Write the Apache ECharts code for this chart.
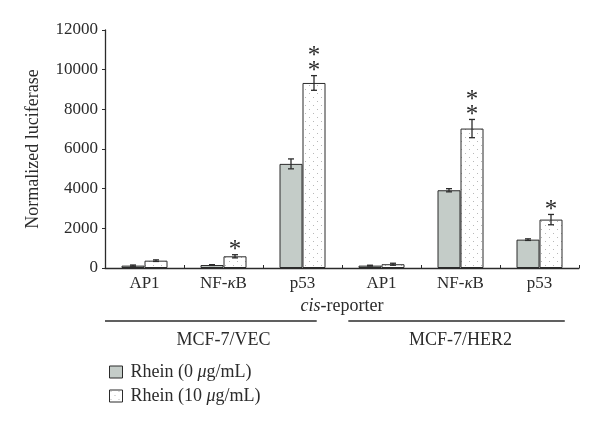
<!DOCTYPE html>
<html><head><meta charset="utf-8">
<script src="https://cdn.jsdelivr.net/npm/echarts@6/dist/echarts.min.js"></script>
<style>html,body{margin:0;padding:0;background:#fff}#c{width:600px;height:428px}</style>
</head><body><div id="c"></div><script>
// ---- data ----
const categories = ['AP1', 'NF-κB', 'p53', 'AP1', 'NF-κB', 'p53'];
const seriesNames = ['Rhein (0 μg/mL)', 'Rhein (10 μg/mL)'];
const rhein0 = [120, 150, 5250, 120, 3920, 1430];
const rhein0Err = [30, 20, 250, 20, 80, 40];
const rhein0Stars = [0, 0, 0, 0, 0, 0];
const rhein10 = [370, 590, 9330, 190, 7030, 2440];
const rhein10Err = [40, 80, 370, 50, 460, 260];
const rhein10Stars = [0, 1, 2, 0, 2, 1];
const groupNames = ['MCF-7/VEC', 'MCF-7/HER2'];
const groupFrom = [0, 3];
const groupTo = [2, 5];
const yMin = 0, yMax = 12000, yStep = 2000;

// ---- styling ----
const FONT = 'Liberation Serif';
const INK = '#2b2b2b';
const GREY = '#c4ccc8';
const FS_TICK = 17, FS_TEXT = 18;

function dotPattern() {
  const c = document.createElement('canvas');
  c.width = 8; c.height = 8;
  const g = c.getContext('2d');
  g.fillStyle = '#ffffff'; g.fillRect(0, 0, 8, 8);
  g.fillStyle = '#b8b8b8';
  g.fillRect(1, 1, 1, 1);
  g.fillRect(5, 5, 1, 1);
  return c;
}
const DOTS = { image: dotPattern(), repeat: 'repeat' };

const BAR_W = 23;
function errSeries(vals, errs, stars, offset) {
  return {
    type: 'custom',
    silent: true,
    z: 5,
    data: vals.map((v, i) => [i, v, errs[i], stars[i]]),
    encode: { x: 0, y: 1 },
    renderItem: function (params, api) {
      const i = api.value(0), v = api.value(1), e = api.value(2), s = api.value(3);
      const x = api.coord([i, v])[0] + offset;
      const yTop = api.coord([i, v + e])[1];
      const yBot = api.coord([i, Math.max(0, v - e)])[1];
      const st = { stroke: INK, lineWidth: 1.3 };
      const children = [
        { type: 'line', shape: { x1: x, y1: yTop, x2: x, y2: yBot }, style: st },
        { type: 'line', shape: { x1: x - 3, y1: yTop, x2: x + 3, y2: yTop }, style: st },
        { type: 'line', shape: { x1: x - 3, y1: yBot, x2: x + 3, y2: yBot }, style: st }
      ];
      for (let k = 0; k < s; k++) {
        children.push({
          type: 'text',
          style: {
            text: '*', x: x, y: yTop - 9 - k * 15,
            fontFamily: FONT, fontSize: 25, fill: INK,
            align: 'center', verticalAlign: 'middle'
          },
          y: 5
        });
      }
      return { type: 'group', children: children };
    }
  };
}

const richI = function (fs) { return { i: { fontFamily: FONT, fontSize: fs, fontStyle: 'italic', color: INK } }; };

const chart = echarts.init(document.getElementById('c'), null, { renderer: 'canvas' });
const option = {
  animation: false,
  backgroundColor: '#fff',
  textStyle: { fontFamily: FONT, color: INK },
  grid: { left: 105, right: 21, top: 30, bottom: 160 },
  legend: {
    orient: 'vertical', left: 109, top: 363, padding: 0,
    itemWidth: 13, itemHeight: 12, itemGap: 6,
    icon: 'rect',
    itemStyle: { borderColor: INK, borderWidth: 1 },
    data: [
      { name: seriesNames[0], itemStyle: { color: GREY, borderColor: INK, borderWidth: 1 } },
      { name: seriesNames[1], itemStyle: { color: DOTS, borderColor: INK, borderWidth: 1 } }
    ],
    textStyle: { fontFamily: FONT, fontSize: FS_TEXT, lineHeight: 18, color: INK, padding: [0, 0, 0, 3], rich: richI(FS_TEXT) },
    formatter: function (n) { return n.replace('μ', '{i|μ}'); }
  },
  xAxis: {
    type: 'category', data: categories,
    name: '{i|cis}-reporter', nameLocation: 'middle', nameGap: 26,
    nameTextStyle: { fontFamily: FONT, fontSize: FS_TEXT, color: INK, rich: richI(FS_TEXT) },
    axisLine: { lineStyle: { color: INK, width: 1.3 } },
    axisTick: { show: true, inside: true, length: 3, lineStyle: { color: INK } },
    axisLabel: {
      interval: 0,
      fontFamily: FONT, fontSize: FS_TICK, color: INK, margin: 7,
      formatter: function (v) { return v.replace('κ', '{i|κ}'); },
      rich: richI(FS_TICK)
    }
  },
  yAxis: {
    type: 'value', min: yMin, max: yMax, interval: yStep,
    name: 'Normalized luciferase', nameLocation: 'middle', nameGap: 63,
    nameTextStyle: { fontFamily: FONT, fontSize: FS_TEXT, color: INK },
    axisLine: { show: true, lineStyle: { color: INK, width: 1.3 } },
    axisTick: { show: true, length: 3, lineStyle: { color: INK } },
    axisLabel: { fontFamily: FONT, fontSize: FS_TICK, color: INK, margin: 7, formatter: function (v) { return String(v); } },
    splitLine: { show: false }
  },
  series: [
    {
      name: seriesNames[0], type: 'bar', data: rhein0, barWidth: BAR_W, barGap: '0%',
      itemStyle: { color: GREY, borderColor: INK, borderWidth: 1 }
    },
    {
      name: seriesNames[1], type: 'bar', data: rhein10, barWidth: BAR_W, barGap: '0%',
      itemStyle: { color: DOTS, borderColor: INK, borderWidth: 1 }
    },
    errSeries(rhein0, rhein0Err, rhein0Stars, -BAR_W / 2),
    errSeries(rhein10, rhein10Err, rhein10Stars, BAR_W / 2)
  ]
};
chart.setOption(option);

// group annotation lines and labels, positioned from the category axis
const band = chart.convertToPixel({ xAxisIndex: 0 }, 1) - chart.convertToPixel({ xAxisIndex: 0 }, 0);
const lineY = 321, labelY = 340;
const startAdj = [-0.5, -0.42];
const endAdj = [0.18, 0.32];
const graphics = [];
groupNames.forEach(function (g, k) {
  const x0 = chart.convertToPixel({ xAxisIndex: 0 }, groupFrom[k]) + startAdj[k] * band;
  const x1 = chart.convertToPixel({ xAxisIndex: 0 }, groupTo[k]) + endAdj[k] * band;
  const xm = chart.convertToPixel({ xAxisIndex: 0 }, (groupFrom[k] + groupTo[k]) / 2);
  graphics.push({ type: 'line', shape: { x1: x0, y1: lineY, x2: x1, y2: lineY }, style: { stroke: INK, lineWidth: 1.3 } });
  graphics.push({ type: 'text', x: xm, y: labelY, style: { text: g, fontFamily: FONT, fontSize: FS_TEXT, fill: INK, align: 'center', verticalAlign: 'middle' } });
});
chart.setOption({ graphic: graphics });
</script></body></html>
